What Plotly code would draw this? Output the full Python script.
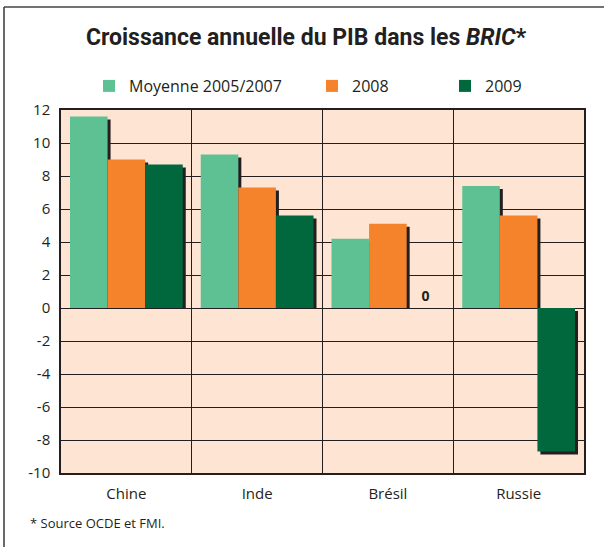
import plotly.graph_objects as go

categories = ["Chine", "Inde", "Brésil", "Russie"]
series_names = ["Moyenne 2005/2007", "2008", "2009"]
moyenne_2005_2007 = [11.6, 9.3, 4.2, 7.4]
annee_2008 = [9.0, 7.3, 5.1, 5.6]
annee_2009 = [8.7, 5.6, 0.0, -8.7]
y_ticks = [-10, -8, -6, -4, -2, 0, 2, 4, 6, 8, 10, 12]
y_tick_labels = ["-10", "-8", "-6", "-4", "-2", "0", "2", "4", "6", "8", "10", "12"]
title_html = "Croissance annuelle du PIB dans les <i>BRIC</i>*"
footnote = "* Source OCDE et FMI."

colors = ["#5EC194", "#F5832B", "#00683C"]
shadow_color = "#231F20"
peach = "#FEE5D3"
ink = "#231F20"

W, H = 604, 547
L, R, T, B = 61, 20, 110, 74
plot_w = W - L - R
plot_h = H - T - B
px_per_cat = plot_w / len(categories)
px_per_unit = plot_h / (max(y_ticks) - min(y_ticks))

gap = 0.1375
bw = (1 - gap) / 3
offsets = [-0.5 + gap / 2 + i * bw for i in range(3)]
sdx = 3 / px_per_cat
sdy = 3 / px_per_unit

fig = go.Figure()
all_series = [moyenne_2005_2007, annee_2008, annee_2009]

# shadows
for i, vals in enumerate(all_series):
    bases = [(-sdy if v < 0 else 0) for v in vals]
    heights = [(v if v < 0 else max(v - sdy, 0)) for v in vals]
    fig.add_trace(go.Bar(
        x=categories, y=heights, base=bases, width=bw, offset=offsets[i] + sdx,
        marker=dict(color=shadow_color, line=dict(width=0)),
        showlegend=False, hoverinfo="skip"))

legend_ids = ["legend", "legend2", "legend3"]
for i, vals in enumerate(all_series):
    text = ["0" if (i == 2 and v == 0) else "" for v in vals]
    fig.add_trace(go.Bar(
        x=categories, y=vals, width=bw, offset=offsets[i], name=series_names[i],
        marker=dict(color=colors[i], line=dict(width=0)),
        text=text, textposition="outside", cliponaxis=False,
        textfont=dict(family="Open Sans", size=14, color=ink, weight="bold"),
        legend=legend_ids[i]))

def legx(px):
    return (px - L) / plot_w

leg_y = 1 + (T - 86) / plot_h
legend_common = dict(orientation="h", yanchor="middle", y=leg_y, xanchor="left",
                     bgcolor="rgba(0,0,0,0)", borderwidth=0,
                     font=dict(family="Open Sans", size=16, color=ink),
                     itemwidth=30)
leg_text_x = [129, 352, 485]

layout_legends = {}
for i, lid in enumerate(legend_ids):
    d = dict(legend_common)
    d["x"] = legx(leg_text_x[i] - 40)
    layout_legends[lid] = d

def py(p):
    return (H - B - p) / plot_h

fig.update_layout(
    width=W, height=H,
    margin=dict(l=L, r=R, t=T, b=B, pad=0),
    paper_bgcolor="white", plot_bgcolor=peach,
    barmode="overlay",
    title=dict(text=title_html, x=306 / W, xanchor="center", xref="container",
               y=1 - 37 / H, yanchor="middle",
               font=dict(family="Roboto", size=23, color=ink, weight="bold")),
    xaxis=dict(type="category", tickson="boundaries", showgrid=True, gridcolor=ink,
               gridwidth=1.3, showline=True, linecolor=ink, linewidth=1.5, mirror=True,
               ticks="", tickfont=dict(family="Open Sans", size=15, color=ink),
               ticklabelstandoff=6, range=[-0.5, 3.5]),
    yaxis=dict(range=[min(y_ticks), max(y_ticks)], tickvals=y_ticks, ticktext=y_tick_labels,
               showgrid=True,
               gridcolor=ink, gridwidth=1.3, zeroline=True, zerolinecolor=ink,
               zerolinewidth=1.3, showline=True, linecolor=ink, linewidth=1.5, mirror=True,
               ticks="", tickfont=dict(family="Open Sans", size=15, color=ink),
               ticklabelstandoff=6),
    annotations=[dict(text=footnote, xref="paper", yref="paper", x=legx(28), y=py(523),
                      xanchor="left", yanchor="middle", showarrow=False,
                      font=dict(family="Open Sans", size=13, color=ink))],
    shapes=[
        dict(type="line", xref="paper", yref="paper", x0=legx(4), x1=legx(W + 2),
             y0=py(7), y1=py(7), line=dict(color="#444444", width=1.6)),
        dict(type="line", xref="paper", yref="paper", x0=legx(4), x1=legx(4),
             y0=py(7), y1=py(H + 2), line=dict(color="#444444", width=1.6)),
    ],
    showlegend=True,
    **layout_legends,
)

fig.write_html("out.html", config={"displayModeBar": False},
               post_script="document.body.style.margin='0';document.body.style.overflow='hidden';")
